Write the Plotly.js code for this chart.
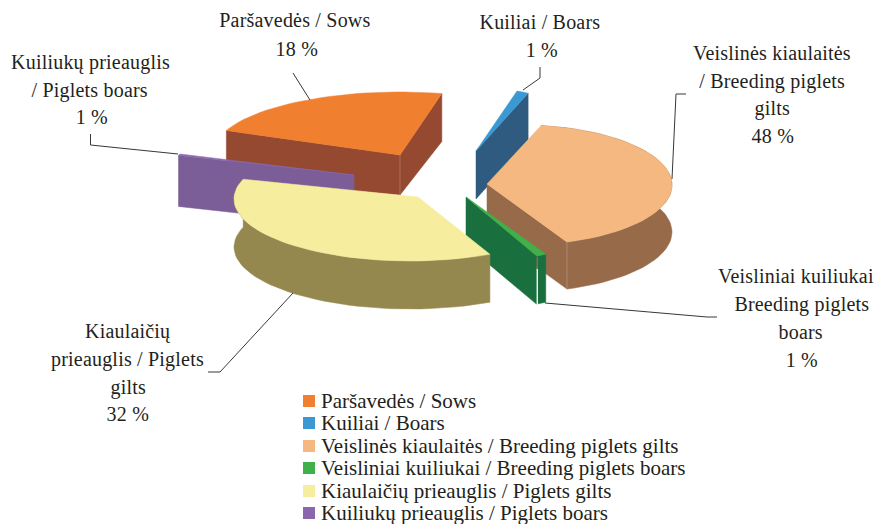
<!DOCTYPE html>
<html>
<head>
<meta charset="utf-8">
<script src="https://cdn.plot.ly/plotly-3.0.1.min.js"></script>
<style>html,body{margin:0;padding:0;background:#fff}#chart{width:875px;height:524px}</style>
</head>
<body>
<div id="chart"></div>
<script>
// ---- data ----
const seriesNames = ["Paršavedės / Sows","Kuiliai / Boars","Veislinės kiaulaitės / Breeding piglets gilts","Veisliniai kuiliukai / Breeding piglets boars","Kiaulaičių prieauglis / Piglets gilts","Kuiliukų prieauglis / Piglets boars"];
const shares = [18,1,48,1,32,1];
// rim angles of each slice as seen in the picture (degrees on its ellipse)
const rimStart = [-159,-70.85,-82,60,63,198.85];
const rimEnd   = [-77,-65.35,72,63.6,198.6,197.5];

// ---- style and layout ----
const topColors  = ["#F17F30","#3A99D3","#F5B880","#3FB14A","#F6ED9F","#8B68AE"];
const wallColors = ["#954931","#2E5B7F","#976B4A","#1A6F3F","#95884F","#7B5D97"];
const legendColors = topColors;
const apexX = [400,476,487,466,418,354];
const apexY = [155,151,184,197,197,175];
const ellCx = [400,476,520,466,410,354];
const ellCy = [152,151,185,197,199,175];
const ellA  = [186,125,152,159.5,176,184];
const ellB  = [60,63.5,60,66,62,65];
const depthApex = [40,48,47,48,48,51];
const depthRim  = [48,48,47,48,48,51];
// which walls show: near side of the apex to rim end, apex to rim start, rim itself
const wallEnd   = [true,true,true,true,false,true];
const wallStart = [true,false,false,false,false,false];
const wallRim   = [false,false,true,true,true,false];
const drawOrder = [0,5,1,2,3,4];

const fontFam = '"Liberation Serif","Times New Roman",serif';
const textColor = "#231F20";
const labelSize = 20, legendSize = 21;

const labelLines = [
 ["Paršavedės / Sows",295,20],["18 %",297,49],
 ["Kuiliai / Boars",540,22],["1 %",542,50],
 ["Veislinės kiaulaitės",772,53],["/ Breeding piglets",772,81],["gilts",772,108],["48 %",773,136],
 ["Veisliniai kuiliukai",796,276],["Breeding piglets",802,304],["boars",801,332],["1 %",802,360],
 ["Kiaulaičių",128,331],["prieauglis / Piglets",127,359],["gilts",128,387],["32 %",128,414],
 ["Kuiliukų prieauglis",90,62],["/ Piglets boars",90,90],["1 %",92,117]
];
const leaderX = [[293,310],[540,540,523],[672,676,686],[545,707,717],[293,220,208],[90.5,90.5,178]];
const leaderY = [[73,100],[67,78,90],[179,94,94],[303,317,317],[293,372,372],[134,145,154]];
const legendRowY = [401,423,446,468,491,513];
const legendMarkX = 309, legendTextX = 319;

// slight tracking on the callout labels only
const st=document.createElement("style");
st.textContent=labelLines.map((_,i)=>'.annotation[data-index="'+i+'"] .annotation-text').join(",")+"{letter-spacing:.2px}";
document.head.appendChild(st);

// ---- geometry from the angles ----
function rimPoints(i){
  const pts=[]; const n=Math.max(2,Math.ceil(Math.abs(rimEnd[i]-rimStart[i])/3));
  for(let k=0;k<=n;k++){
    const t=(rimStart[i]+(rimEnd[i]-rimStart[i])*k/n)*Math.PI/180;
    pts.push([ellCx[i]+ellA[i]*Math.cos(t), ellCy[i]+ellB[i]*Math.sin(t)]);
  }
  return pts;
}
function poly(pts,color,name,hover){
  const c=pts.concat([pts[0]]);
  return {type:"scatter",mode:"lines",x:c.map(p=>p[0]),y:c.map(p=>p[1]),fill:"toself",fillcolor:color,
    line:{color:color,width:0.5},name:name,showlegend:false,hoverinfo:hover?"name":"skip"};
}
const traces=[];
drawOrder.forEach(i=>{
  const rim=rimPoints(i), A=[apexX[i],apexY[i]], first=rim[0], last=rim[rim.length-1];
  const da=depthApex[i], dr=depthRim[i], col=wallColors[i];
  const dn=(p,d)=>[p[0],p[1]+d];
  if(wallRim[i]) traces.push(poly(rim.concat(rim.slice().reverse().map(p=>dn(p,dr))),col,seriesNames[i],false));
  if(wallStart[i]) traces.push(poly([A,first,dn(first,dr),dn(A,da)],col,seriesNames[i],false));
  if(wallEnd[i]){
    const endP = i===3 ? [last[0]-0.5,last[1]] : last;
    traces.push(poly([A,endP,dn(endP,dr),dn(A,da)],col,seriesNames[i],false));
  }
  traces.push(poly([A].concat(rim),topColors[i],seriesNames[i]+": "+shares[i]+" %",true));
  if(i===0||i===2){ // lighter corner edge on the wall
    const c=i===0?A:last, d=i===0?da:dr;
    traces.push({type:"scatter",mode:"lines",x:[c[0],c[0]],y:[c[1],c[1]+d],line:{color:i===0?"#B57A5F":"#B4917A",width:0.8},showlegend:false,hoverinfo:"skip"});
  }
  if(i===3){ // sliver between the green wall and its end face
    traces.push({type:"scatter",mode:"lines",x:[last[0]+0.4,last[0]+0.4],y:[last[1]+13,last[1]+dr+1],line:{color:"#FFFFFF",width:1.2},showlegend:false,hoverinfo:"skip"});
    traces.push({type:"scatter",mode:"lines",x:[last[0]+0.4,last[0]+0.4],y:[last[1]+1,last[1]+13],line:{color:"#976B4A",width:1.2},showlegend:false,hoverinfo:"skip"});
  }
});
leaderX.forEach((xs,k)=>traces.push({type:"scatter",mode:"lines",x:xs,y:leaderY[k],line:{color:"#3A3637",width:1},showlegend:false,hoverinfo:"skip"}));
traces.push({type:"scatter",mode:"markers",x:legendRowY.map(()=>legendMarkX),y:legendRowY,
  marker:{symbol:"square",size:12,color:legendColors,line:{width:0}},showlegend:false,hoverinfo:"skip"});

const annotations = labelLines.map(l=>({x:l[1],y:l[2],text:l[0],showarrow:false,xanchor:"center",yanchor:"middle",
  font:{family:fontFam,size:labelSize,color:textColor}}))
 .concat(seriesNames.map((s,i)=>({x:legendTextX,y:legendRowY[i],text:s,showarrow:false,xanchor:"left",yanchor:"middle",
  font:{family:fontFam,size:legendSize,color:textColor}})));

const layout={width:875,height:524,margin:{l:0,r:0,t:0,b:0},paper_bgcolor:"#fff",plot_bgcolor:"#fff",showlegend:false,
  xaxis:{range:[0,875],visible:false,fixedrange:true},yaxis:{range:[524,0],visible:false,fixedrange:true},
  annotations:annotations};
Plotly.newPlot("chart",traces,layout,{displayModeBar:false,staticPlot:true});
</script>
</body>
</html>
